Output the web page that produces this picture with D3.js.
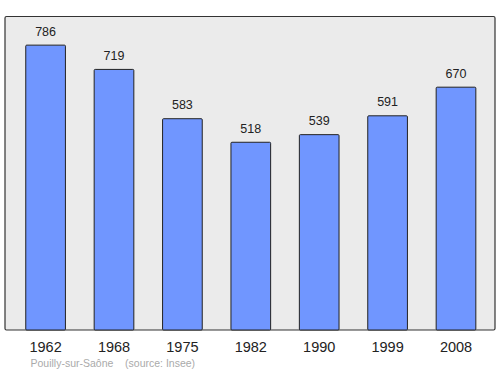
<!DOCTYPE html>
<html>
<head>
<meta charset="utf-8">
<script src="https://cdn.jsdelivr.net/npm/d3@7"></script>
<style>
  body { margin: 0; background: #fff; }
  svg { display: block; font-family: "Liberation Sans", Arial, sans-serif; }
</style>
</head>
<body>
<svg id="chart" width="500" height="374"></svg>
<script>
// population per census year
const years = ["1962", "1968", "1975", "1982", "1990", "1999", "2008"];
const population = [786, 719, 583, 518, 539, 591, 670];
const townName = "Pouilly-sur-Saône";
const sourceNote = "(source: Insee)";

const svg = d3.select("#chart");

// plot frame
const frame = { left: 5, right: 495, top: 16.5, bottom: 330 };

svg.append("rect")
    .attr("x", frame.left)
    .attr("y", frame.top)
    .attr("width", frame.right - frame.left)
    .attr("height", frame.bottom - frame.top)
    .attr("rx", 1.5)
    .attr("fill", "#ebebeb")
    .attr("stroke", "#333")
    .attr("stroke-width", 1.2);

const x = d3.scaleBand()
    .domain(years)
    .range([11.4, 490.2])
    .paddingInner(0.42)
    .paddingOuter(0.21);

const y = d3.scaleLinear()
    .domain([0, 865])
    .range([frame.bottom, frame.top]);

const rows = years.map((yr, i) => ({ year: yr, value: population[i] }));

svg.selectAll("rect.bar")
    .data(rows)
    .join("rect")
    .attr("class", "bar")
    .attr("x", d => x(d.year))
    .attr("y", d => y(d.value))
    .attr("width", x.bandwidth())
    .attr("height", d => y(0) - y(d.value))
    .attr("rx", 1)
    .attr("fill", "#7096ff")
    .attr("stroke", "#222")
    .attr("stroke-width", 1);

// value labels over the bars
svg.selectAll("text.val")
    .data(rows)
    .join("text")
    .attr("class", "val")
    .attr("x", d => x(d.year) + x.bandwidth() / 2)
    .attr("y", d => y(d.value) - 9.5)
    .attr("text-anchor", "middle")
    .attr("font-size", 12.5)
    .attr("fill", "#222")
    .text(d => d.value);

// year axis (labels only)
const xAxis = svg.append("g")
    .attr("transform", "translate(0," + frame.bottom + ")")
    .call(d3.axisBottom(x).tickSize(0).tickPadding(12));
xAxis.select(".domain").remove();
xAxis.selectAll("text")
    .attr("font-size", 14.5)
    .attr("font-family", "Liberation Sans, Arial, sans-serif")
    .attr("fill", "#222");

// footer
svg.append("text")
    .attr("x", 30.5)
    .attr("y", 367)
    .attr("font-size", 10.5)
    .attr("fill", "#aaa")
    .attr("xml:space", "preserve")
    .text(townName + "    " + sourceNote);
</script>
</body>
</html>
